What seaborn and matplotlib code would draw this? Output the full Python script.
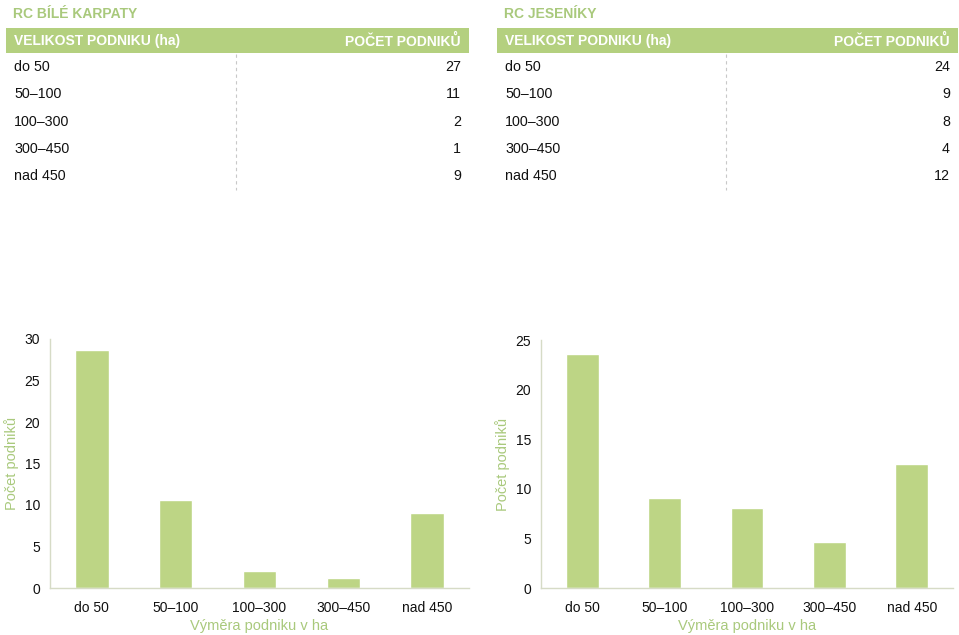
import matplotlib
matplotlib.use("Agg")
import matplotlib.pyplot as plt
import pandas as pd
import seaborn as sns

# --- data ---
kategorie = ["do 50", "50–100", "100–300", "300–450", "nad 450"]
karpaty_tab = [27, 11, 2, 1, 9]
jeseniky_tab = [24, 9, 8, 4, 12]
# bar heights as drawn in the charts
karpaty_bar = [28.7, 10.6, 2.1, 1.2, 9.0]
jeseniky_bar = [23.6, 9.1, 8.1, 4.6, 12.5]

GREEN = "#bdd585"
HEAD = "#b4d07f"
TITLE = "#a9c97c"
SPINE = "#d6dbc6"

sns.set_theme(style="white")
plt.rcParams['font.family'] = ['Liberation Sans', 'DejaVu Sans']

W, H = 959, 635
fig = plt.figure(figsize=(W / 100, H / 100), dpi=100)

# full-figure axes in pixel coords for the tables
bg = fig.add_axes([0, 0, 1, 1])
bg.set_xlim(0, W)
bg.set_ylim(H, 0)
bg.axis("off")


def draw_table(x0, x1, title, values):
    bg.text(x0 + 7, 14, title, color=TITLE, fontsize=10, fontweight="bold", va="center")
    bg.add_patch(plt.Rectangle((x0, 28), x1 - x0, 25, color=HEAD, lw=0))
    bg.text(x0 + 8, 41, "VELIKOST PODNIKU (ha)", color="white", fontsize=10,
            fontweight="bold", va="center")
    bg.text(x1 - 8, 41, "POČET PODNIKŮ", color="white", fontsize=10,
            fontweight="bold", va="center", ha="right")
    mid = x0 + (x1 - x0) * 0.497
    bg.plot([mid, mid], [54, 190], color="#c8c8c8", lw=0.8, ls=(0, (3, 3)))
    for i, (k, v) in enumerate(zip(kategorie, values)):
        y = 67 + i * 27.3
        bg.text(x0 + 8, y, k, color="#111111", fontsize=10.3, va="center")
        bg.text(x1 - 8, y, str(v), color="#111111", fontsize=10.3, va="center", ha="right")


draw_table(6, 469, "RC BÍLÉ KARPATY", karpaty_tab)
draw_table(497, 958, "RC JESENÍKY", jeseniky_tab)


def draw_chart(left_px, right_px, top_px, ymax, values, label_x_px):
    bottom_px = 588
    width_px = right_px - left_px
    ax = fig.add_axes([left_px / W, (H - bottom_px) / H,
                       width_px / W, (bottom_px - top_px) / H])
    df = pd.DataFrame({"kat": kategorie, "pocet": values})
    sns.barplot(data=df, x="kat", y="pocet", color=GREEN, saturation=1,
                width=0.4, ax=ax)
    ax.set_xlim(-0.5, 4.5)
    ax.set_ylim(0, ymax)
    ax.set_yticks(range(0, ymax + 1, 5))
    ax.set_xticks([i - 0.5 for i in range(6)], minor=True)
    ax.tick_params(axis="x", which="major", length=0, pad=9, labelsize=10,
                   labelcolor="#111111")
    ax.tick_params(axis="x", which="minor", length=4, color=SPINE, width=1,
                   direction="out")
    ax.tick_params(axis="y", length=4, color=SPINE, width=1, labelsize=10,
                   labelcolor="#111111", pad=3)
    for s in ["top", "right"]:
        ax.spines[s].set_visible(False)
    for s in ["left", "bottom"]:
        ax.spines[s].set_color(SPINE)
        ax.spines[s].set_linewidth(1)
    ax.set_xlabel("Výměra podniku v ha", color=TITLE, fontsize=10.5, labelpad=3)
    ax.set_ylabel("Počet podniků", color=TITLE, fontsize=10.5)
    ax.yaxis.set_label_coords((label_x_px - left_px) / width_px, 0.5)
    ax.patch.set_alpha(0)
    return ax


ax1 = draw_chart(50, 469, 339, 30, karpaty_bar, 19)
ax2 = draw_chart(541, 953, 340, 25, jeseniky_bar, 510)

fig.savefig("out.png", dpi=100)
